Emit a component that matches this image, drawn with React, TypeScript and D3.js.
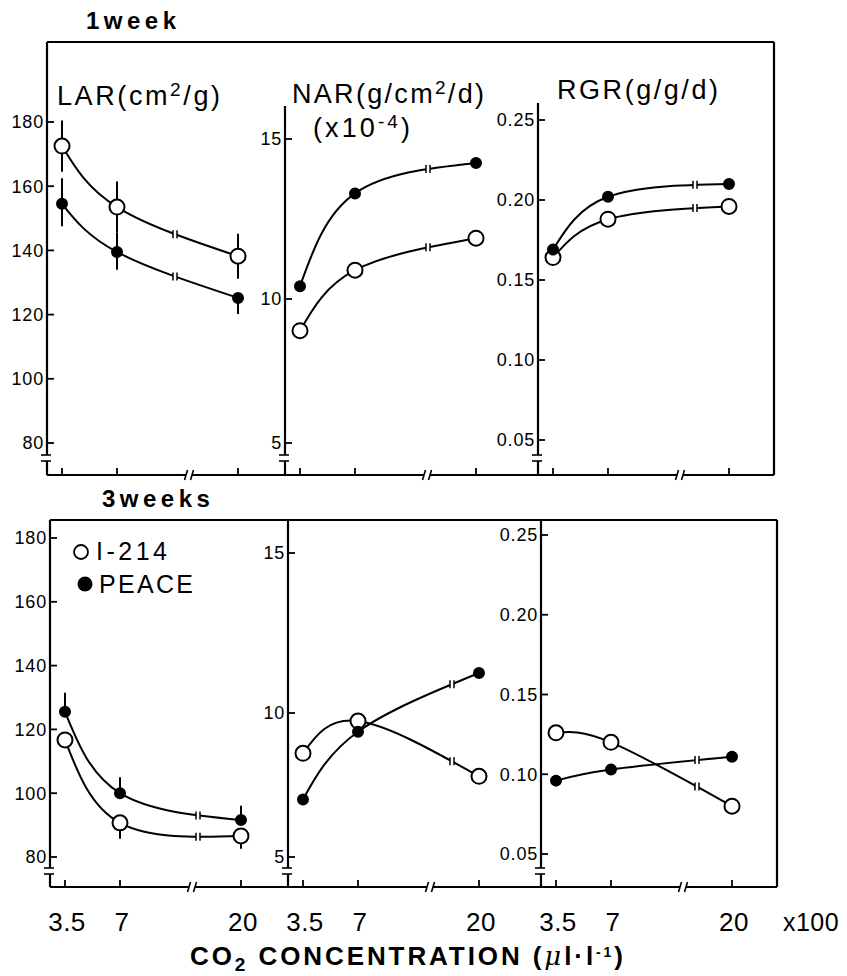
import React, { useEffect, useRef } from 'react';
import * as d3 from 'd3';

// ---------- data ----------
const CO2 = [3.5, 7, 20];
const X_TICK_LABELS = ['3.5', '7', '20'];
const LAR_TICKS = [80, 100, 120, 140, 160, 180];
const NAR_TICKS = [5, 10, 15];
const RGR_TICKS = [0.05, 0.1, 0.15, 0.2, 0.25];
const RGR_TICK_LABELS = ['0.05', '0.10', '0.15', '0.20', '0.25'];

// 1 week
const LAR_I214_1W = [172.5, 153.5, 138.2];
const LAR_I214_1W_UP = [8, 8, 7];
const LAR_I214_1W_DN = [8, 8, 7];
const LAR_PEACE_1W = [154.5, 139.5, 125.2];
const LAR_PEACE_1W_UP = [8, 6, 0];
const LAR_PEACE_1W_DN = [7, 5.5, 5];
const NAR_I214_1W = [8.9, 10.9, 11.9];
const NAR_PEACE_1W = [10.4, 13.3, 14.25];
const RGR_I214_1W = [0.164, 0.188, 0.196];
const RGR_PEACE_1W = [0.169, 0.202, 0.21];

// 3 weeks
const LAR_I214_3W = [116.7, 90.7, 86.6];
const LAR_I214_3W_UP = [0, 0, 0];
const LAR_I214_3W_DN = [2, 5, 4];
const LAR_PEACE_3W = [125.5, 100, 91.6];
const LAR_PEACE_3W_UP = [6, 5, 4.5];
const LAR_PEACE_3W_DN = [0, 0, 0];
const NAR_I214_3W = [8.6, 9.72, 7.8];
const NAR_PEACE_3W = [7.0, 9.35, 11.25];
const RGR_I214_3W = [0.126, 0.12, 0.08];
const RGR_PEACE_3W = [0.096, 0.103, 0.111];

const FONT = "'Liberation Sans', Arial, Helvetica, sans-serif";

type Series = { vals: number[]; open: boolean; up?: number[]; dn?: number[] };

export default function App() {
  const ref = useRef<SVGSVGElement>(null);

  useEffect(() => {
    const svg = d3.select(ref.current);
    svg.selectAll('*').remove();

    const rows = [
      {
        label: '1week', labelX: 86, labelY: 29,
        top: 42, left: 47, right: 774, base: 475, yBreak: 458,
        axisX: [47, 285, 538], innerTop: [42, 106, 103],
        markOff: [128, 143, 157],
        scales: [
          d3.scaleLinear().domain([80, 180]).range([443, 122]),
          d3.scaleLinear().domain([5, 10, 15]).range([443, 299, 139]),
          d3.scaleLinear().domain([0.05, 0.25]).range([440, 120]),
        ],
        series: [
          [
            { vals: LAR_I214_1W, open: true, up: LAR_I214_1W_UP, dn: LAR_I214_1W_DN },
            { vals: LAR_PEACE_1W, open: false, up: LAR_PEACE_1W_UP, dn: LAR_PEACE_1W_DN },
          ],
          [
            { vals: NAR_I214_1W, open: true },
            { vals: NAR_PEACE_1W, open: false },
          ],
          [
            { vals: RGR_I214_1W, open: true },
            { vals: RGR_PEACE_1W, open: false },
          ],
        ] as Series[][],
      },
      {
        label: '3weeks', labelX: 102, labelY: 507,
        top: 520, left: 50, right: 777, base: 887, yBreak: 871,
        axisX: [50, 288, 541], innerTop: [520, 520, 520],
        markOff: [148, 164, 156],
        scales: [
          d3.scaleLinear().domain([80, 180]).range([857, 538]),
          d3.scaleLinear().domain([5, 10, 15]).range([857, 713, 553]),
          d3.scaleLinear().domain([0.05, 0.25]).range([854, 535]),
        ],
        series: [
          [
            { vals: LAR_I214_3W, open: true, up: LAR_I214_3W_UP, dn: LAR_I214_3W_DN },
            { vals: LAR_PEACE_3W, open: false, up: LAR_PEACE_3W_UP, dn: LAR_PEACE_3W_DN },
          ],
          [
            { vals: NAR_I214_3W, open: true },
            { vals: NAR_PEACE_3W, open: false },
          ],
          [
            { vals: RGR_I214_3W, open: true },
            { vals: RGR_PEACE_3W, open: false },
          ],
        ] as Series[][],
      },
    ];

    const tickSets = [LAR_TICKS, NAR_TICKS, RGR_TICKS];
    const tickFmt = [
      (v: number) => String(v),
      (v: number) => String(v),
      (v: number) => RGR_TICK_LABELS[RGR_TICKS.indexOf(v)],
    ];

    rows.forEach((row, ri) => {
      const g = svg.append('g');
      // row label
      g.append('text')
        .attr('x', row.labelX).attr('y', row.labelY)
        .attr('font-family', FONT).attr('font-weight', 'bold')
        .attr('font-size', 24).attr('letter-spacing', 4.5)
        .text(row.label);

      // frame: top line, right, baseline
      g.append('line').attr('x1', row.left).attr('x2', row.right)
        .attr('y1', row.top).attr('y2', row.top)
        .attr('stroke', '#000').attr('stroke-width', 2.2);
      g.append('line').attr('x1', row.right).attr('x2', row.right)
        .attr('y1', row.top).attr('y2', row.base)
        .attr('stroke', '#000').attr('stroke-width', 2.2);
      g.append('line').attr('x1', row.left).attr('x2', row.right)
        .attr('y1', row.base).attr('y2', row.base)
        .attr('stroke', '#000').attr('stroke-width', 2.2);

      row.axisX.forEach((ax, pi) => {
        const x = d3.scaleLinear().domain(CO2).range([ax + 15, ax + 70, ax + 191]);
        const y = row.scales[pi];

        // y axis line with break
        g.append('line').attr('x1', ax).attr('x2', ax)
          .attr('y1', row.innerTop[pi]).attr('y2', row.yBreak - 3)
          .attr('stroke', '#000').attr('stroke-width', 2.2);
        g.append('line').attr('x1', ax).attr('x2', ax)
          .attr('y1', row.yBreak + 3).attr('y2', row.base)
          .attr('stroke', '#000').attr('stroke-width', 2.2);
        [-3, 3].forEach((d) => {
          g.append('line').attr('x1', ax - 6).attr('x2', ax + 4)
            .attr('y1', row.yBreak + d).attr('y2', row.yBreak + d)
            .attr('stroke', '#000').attr('stroke-width', 1.6);
        });

        // y ticks
        tickSets[pi].forEach((t) => {
          const yy = y(t);
          g.append('line').attr('x1', ax).attr('x2', ax + 7)
            .attr('y1', yy).attr('y2', yy)
            .attr('stroke', '#000').attr('stroke-width', 1.8);
          g.append('text')
            .attr('x', ax - 3).attr('y', yy).attr('dy', '0.36em')
            .attr('text-anchor', 'end')
            .attr('font-family', FONT).attr('font-size', 18)
            .attr('letter-spacing', 0.8)
            .text(tickFmt[pi](t));
        });

        // x ticks
        CO2.forEach((c) => {
          g.append('line').attr('x1', x(c)).attr('x2', x(c))
            .attr('y1', row.base).attr('y2', row.base - 7)
            .attr('stroke', '#000').attr('stroke-width', 1.8);
        });

        // x-axis break
        const bx = ax + 142;
        g.append('rect').attr('x', bx - 3).attr('y', row.base - 5)
          .attr('width', 6).attr('height', 10).attr('fill', '#fff');
        [-3, 3].forEach((d) => {
          g.append('line').attr('x1', bx + d - 1.5).attr('x2', bx + d + 1.5)
            .attr('y1', row.base + 5).attr('y2', row.base - 5)
            .attr('stroke', '#000').attr('stroke-width', 1.6);
        });

        // x labels (bottom row only)
        if (ri === 1) {
          CO2.forEach((c, i) => {
            g.append('text').attr('x', x(c) + 2).attr('y', 931)
              .attr('text-anchor', 'middle')
              .attr('font-family', FONT).attr('font-size', 26)
              .attr('letter-spacing', 0.5)
              .text(X_TICK_LABELS[i]);
          });
        }

        // series
        const series = row.series[pi];
        const line = d3.line<number>()
          .x((_, i) => x(CO2[i]))
          .y((v) => y(v))
          .curve(d3.curveNatural);

        series.forEach((s) => {
          // error bars
          s.vals.forEach((v, i) => {
            const up = s.up ? s.up[i] : 0;
            const dn = s.dn ? s.dn[i] : 0;
            if (up > 0 || dn > 0) {
              g.append('line').attr('x1', x(CO2[i])).attr('x2', x(CO2[i]))
                .attr('y1', y(v + up)).attr('y2', y(v - dn))
                .attr('stroke', '#000').attr('stroke-width', 2);
            }
          });
          const path = g.append('path').attr('d', line(s.vals) as string)
            .attr('fill', 'none').attr('stroke', '#000').attr('stroke-width', 2);

          // break marks on the curve
          const node = path.node() as SVGPathElement;
          const bxc = ax + row.markOff[pi];
          const total = node.getTotalLength();
          let lo = 0, hi = total;
          for (let k = 0; k < 40; k++) {
            const mid = (lo + hi) / 2;
            if (node.getPointAtLength(mid).x < bxc) lo = mid; else hi = mid;
          }
          const p = node.getPointAtLength(lo);
          g.append('rect').attr('x', p.x - 2).attr('y', p.y - 3)
            .attr('width', 4).attr('height', 6).attr('fill', '#fff');
          [-2, 2].forEach((d) => {
            g.append('line').attr('x1', p.x + d).attr('x2', p.x + d)
              .attr('y1', p.y - 4).attr('y2', p.y + 4)
              .attr('stroke', '#000').attr('stroke-width', 1.5);
          });
        });

        // markers
        series.forEach((s) => {
          s.vals.forEach((v, i) => {
            g.append('circle').attr('cx', x(CO2[i])).attr('cy', y(v))
              .attr('r', s.open ? 7.5 : 5)
              .attr('fill', s.open ? '#fff' : '#000')
              .attr('stroke', '#000').attr('stroke-width', 2);
          });
        });
      });
    });

    // panel titles (top row)
    const tt = (x: number, y: number, len: number, parts: [string, boolean][]) => {
      const t = svg.append('text').attr('x', x).attr('y', y)
        .attr('font-family', FONT).attr('font-size', 27)
        .attr('textLength', len).attr('lengthAdjust', 'spacing');
      parts.forEach(([s, sup]) => {
        const sp = t.append('tspan').text(s);
        if (sup) sp.attr('font-size', 19).attr('baseline-shift', '50%');
      });
    };
    tt(57, 105, 163, [['LAR(cm', false], ['2', true], ['/g)', false]]);
    tt(292, 103, 192, [['NAR(g/cm', false], ['2', true], ['/d)', false]]);
    tt(313, 137, 97, [['(x10', false], ['-4', true], [')', false]]);
    tt(557, 99, 161, [['RGR(g/g/d)', false]]);

    // legend
    svg.append('circle').attr('cx', 81).attr('cy', 552).attr('r', 7)
      .attr('fill', '#fff').attr('stroke', '#000').attr('stroke-width', 1.8);
    svg.append('text').attr('x', 96).attr('y', 560)
      .attr('font-family', FONT).attr('font-size', 25)
      .attr('textLength', 71).attr('lengthAdjust', 'spacing')
      .text('I-214');
    svg.append('circle').attr('cx', 85).attr('cy', 584).attr('r', 7.5).attr('fill', '#000');
    svg.append('text').attr('x', 99).attr('y', 593)
      .attr('font-family', FONT).attr('font-size', 25)
      .attr('textLength', 94).attr('lengthAdjust', 'spacing')
      .text('PEACE');

    // x100
    svg.append('text').attr('x', 811).attr('y', 931).attr('text-anchor', 'middle')
      .attr('font-family', FONT).attr('font-size', 25).attr('letter-spacing', 0.5)
      .text('x100');

    // axis title
    const at = svg.append('text').attr('x', 190).attr('y', 965)
      .attr('font-family', FONT).attr('font-size', 26).attr('font-weight', 'bold')
      .attr('textLength', 433).attr('lengthAdjust', 'spacing');
    at.append('tspan').text('CO');
    at.append('tspan').text('2').attr('font-size', 19).attr('baseline-shift', '-30%');
    at.append('tspan').text(' CONCENTRATION (');
    at.append('tspan').text('μ').attr('font-style', 'italic').attr('font-weight', 'normal')
      .attr('font-family', "'DejaVu Serif', serif");
    at.append('tspan').text('l·l');
    at.append('tspan').text('-1').attr('font-size', 14).attr('baseline-shift', '60%');
    at.append('tspan').text(')');
  }, []);

  return (
    <svg
      ref={ref}
      width={847}
      height={976}
      style={{ position: 'absolute', left: 0, top: 0, background: '#fff' }}
    />
  );
}
